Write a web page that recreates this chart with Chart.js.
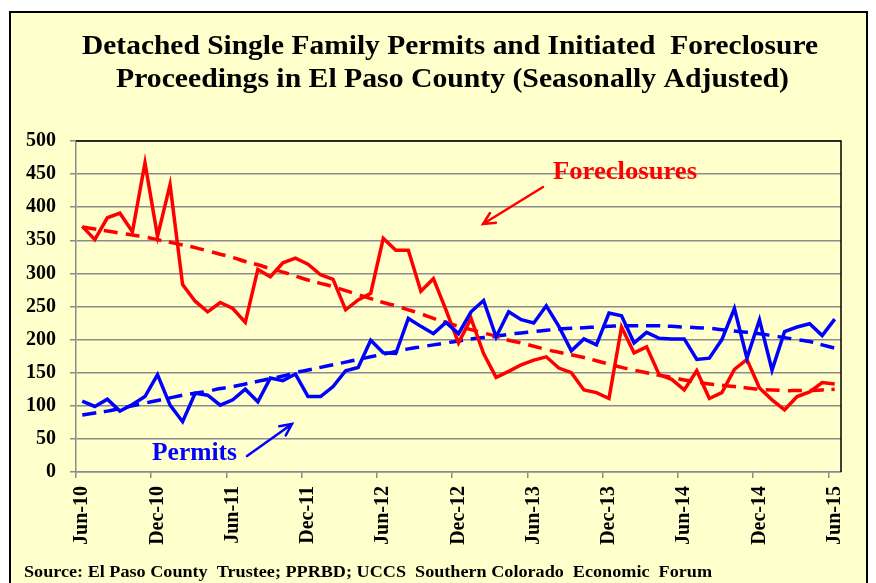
<!DOCTYPE html>
<html>
<head>
<meta charset="utf-8">
<script src="https://cdn.jsdelivr.net/npm/chart.js@4.4.1/dist/chart.umd.min.js"></script>
<style>
    html, body { margin: 0; padding: 0; background: #ffffff; }
    #wrap { width: 876px; height: 583px; }
</style>
</head>
<body>
<div id="wrap"><canvas id="graficoPermisos" width="876" height="583"></canvas></div>
<script>
// categorias: mensual Jun-10 .. Jun-15
const meses = [
    'Jun-10', 'Jul-10', 'Aug-10', 'Sep-10', 'Oct-10', 'Nov-10', 'Dec-10', 'Jan-11', 'Feb-11', 'Mar-11', 'Apr-11', 'May-11',
    'Jun-11', 'Jul-11', 'Aug-11', 'Sep-11', 'Oct-11', 'Nov-11', 'Dec-11', 'Jan-12', 'Feb-12', 'Mar-12', 'Apr-12', 'May-12',
    'Jun-12', 'Jul-12', 'Aug-12', 'Sep-12', 'Oct-12', 'Nov-12', 'Dec-12', 'Jan-13', 'Feb-13', 'Mar-13', 'Apr-13', 'May-13',
    'Jun-13', 'Jul-13', 'Aug-13', 'Sep-13', 'Oct-13', 'Nov-13', 'Dec-13', 'Jan-14', 'Feb-14', 'Mar-14', 'Apr-14', 'May-14',
    'Jun-14', 'Jul-14', 'Aug-14', 'Sep-14', 'Oct-14', 'Nov-14', 'Dec-14', 'Jan-15', 'Feb-15', 'Mar-15', 'Apr-15', 'May-15',
    'Jun-15'
];

const permisos = [
    107, 99, 110, 92, 102, 114, 147, 101, 76, 119, 116, 101,
    109, 125, 106, 142, 138, 148, 114, 114, 129, 153, 158, 199,
    180, 179, 232, 220, 209, 226, 209, 242, 259, 204, 242, 230,
    225, 251, 220, 183, 201, 192, 240, 236, 195, 211, 202, 201,
    201, 170, 172, 200, 247, 172, 230, 154, 212, 219, 224, 206,
    231
];

const ejecuciones = [
    371, 351, 384, 391, 363, 467, 356, 434, 283, 258, 242, 256,
    247, 226, 306, 295, 316, 323, 314, 298, 291, 245, 260, 270,
    353, 335, 335, 273, 292, 245, 195, 232, 179, 143, 152, 162,
    169, 174, 157, 150, 124, 120, 111, 219, 180, 189, 147, 140,
    124, 153, 111, 120, 155, 170, 127, 109, 94, 114, 121, 135,
    133
];

// lineas de tendencia
const tendenciaPermisos = [
    86, 89, 92, 96, 100, 104, 108, 112, 116, 119, 122, 126,
    129, 133, 137, 141, 145, 150, 154, 158, 162, 166, 170, 174,
    178, 182, 186, 189, 192, 195, 198, 201, 203, 205, 208, 210,
    212, 214, 216, 217, 218, 219, 220, 221, 221, 221, 221, 220,
    219, 218, 217, 215, 213, 211, 209, 206, 203, 200, 197, 192,
    187
];

const tendenciaEjecuciones = [
    370, 367, 364, 361, 358, 355, 351, 347, 343, 339, 334, 329,
    324, 318, 313, 307, 302, 296, 290, 285, 280, 274, 268, 262,
    256, 251, 245, 239, 232, 226, 220, 215, 210, 205, 199, 195,
    190, 185, 181, 177, 173, 168, 163, 158, 154, 150, 146, 143,
    139, 136, 133, 131, 129, 127, 125, 124, 123, 123, 123, 124,
    125
];

const FUENTE = '"Liberation Serif", "Times New Roman", serif';
const GRIS = '#8c8c8c';

// texto en negrita estirado al ancho del original
function texto(c, str, cx, base, size, ancho, color) {
    c.save();
    c.font = 'bold ' + size + 'px ' + FUENTE;
    const w = c.measureText(str).width;
    c.translate(cx, base);
    c.scale(ancho / w, 1);
    c.fillStyle = color;
    c.textAlign = 'center';
    c.textBaseline = 'alphabetic';
    c.fillText(str, 0, 0);
    c.restore();
}

function flecha(c, x1, y1, x2, y2, color) {
    const ang = Math.atan2(y2 - y1, x2 - x1);
    const largo = 13;
    c.save();
    c.strokeStyle = color;
    c.lineWidth = 2.5;
    c.lineCap = 'round';
    c.beginPath();
    c.moveTo(x1, y1);
    c.lineTo(x2, y2);
    c.moveTo(x2 - largo * Math.cos(ang - 0.45), y2 - largo * Math.sin(ang - 0.45));
    c.lineTo(x2, y2);
    c.lineTo(x2 - largo * Math.cos(ang + 0.45), y2 - largo * Math.sin(ang + 0.45));
    c.stroke();
    c.restore();
}

const decorado = {
    id: 'decorado',
    beforeDraw(chart) {
        const c = chart.ctx;
        c.save();
        c.fillStyle = '#ffffff';
        c.fillRect(0, 0, chart.width, chart.height);
        c.fillStyle = '#ffffcc';
        c.fillRect(10, 12, 857, chart.height - 12);
        c.strokeStyle = '#000000';
        c.lineWidth = 2;
        c.beginPath();
        c.moveTo(10, chart.height + 2);
        c.lineTo(10, 12);
        c.lineTo(867, 12);
        c.lineTo(867, chart.height + 2);
        c.stroke();
        c.restore();
    },
    afterDraw(chart) {
        const c = chart.ctx;
        const a = chart.chartArea;

        // borde superior y derecho del area de trazado
        c.save();
        c.strokeStyle = '#000000';
        c.lineWidth = 1.5;
        c.beginPath();
        c.moveTo(a.left, a.top);
        c.lineTo(a.right, a.top);
        c.lineTo(a.right, a.bottom);
        c.stroke();
        c.restore();

        texto(c, 'Detached Single Family Permits and Initiated  Foreclosure', 450, 54, 27, 736, '#000000');
        texto(c, 'Proceedings in El Paso County (Seasonally Adjusted)', 452.5, 87, 27, 673, '#000000');
        texto(c, 'Source: El Paso County  Trustee; PPRBD; UCCS  Southern Colorado  Economic  Forum', 368, 577, 16, 688, '#000000');

        texto(c, 'Foreclosures', 625, 179, 26, 144, '#ff0000');
        flecha(c, 543, 187, 483, 224, '#ff0000');

        texto(c, 'Permits', 194.5, 460, 26, 85, '#0000ff');
        flecha(c, 247, 456, 292, 424, '#0000ff');
    }
};

const ctx = document.getElementById('graficoPermisos').getContext('2d');

new Chart(ctx, {
    type: 'line',
    data: {
        labels: meses,
        datasets: [
            {
                label: 'Permits',
                data: permisos,
                borderColor: '#0000ff',
                borderWidth: 3.5,
                pointRadius: 0,
                tension: 0,
                fill: false
            },
            {
                label: 'Foreclosures',
                data: ejecuciones,
                borderColor: '#ff0000',
                borderWidth: 3.5,
                pointRadius: 0,
                tension: 0,
                fill: false
            },
            {
                label: 'Foreclosures trend',
                data: tendenciaEjecuciones,
                borderColor: '#ff0000',
                borderWidth: 3.5,
                borderDash: [14, 8],
                pointRadius: 0,
                tension: 0.4,
                fill: false
            },
            {
                label: 'Permits trend',
                data: tendenciaPermisos,
                borderColor: '#0000ff',
                borderWidth: 3.5,
                borderDash: [14, 8],
                pointRadius: 0,
                tension: 0.4,
                fill: false
            }
        ]
    },
    options: {
        responsive: false,
        animation: false,
        layout: {
            padding: { top: 141, right: 35, bottom: 0, left: 0 }
        },
        scales: {
            x: {
                offset: true,
                afterFit: function (scale) { scale.height = 111; },
                grid: {
                    offset: true,
                    drawOnChartArea: false,
                    drawTicks: true,
                    tickLength: 6,
                    lineWidth: 1.5,
                    color: function (c) {
                        return (c.tick && c.index % 6 === 0) ? GRIS : 'rgba(0,0,0,0)';
                    }
                },
                border: { color: GRIS, width: 1.5 },
                ticks: {
                    autoSkip: false,
                    maxRotation: 90,
                    minRotation: 90,
                    padding: 8,
                    color: '#000000',
                    font: { family: FUENTE, size: 20, weight: 'bold' },
                    callback: function (value, index) {
                        return index % 6 === 0 ? this.getLabelForValue(value) : '';
                    }
                }
            },
            y: {
                min: 0,
                max: 500,
                afterFit: function (scale) { scale.width = 76; },
                grid: {
                    color: GRIS,
                    lineWidth: 1.5,
                    tickLength: 6
                },
                border: { color: GRIS, width: 1.5 },
                ticks: {
                    stepSize: 50,
                    padding: 14,
                    color: '#000000',
                    font: { family: FUENTE, size: 20, weight: 'bold' }
                }
            }
        },
        plugins: {
            legend: { display: false },
            tooltip: { enabled: false },
            title: { display: false }
        }
    },
    plugins: [decorado]
});
</script>
</body>
</html>
